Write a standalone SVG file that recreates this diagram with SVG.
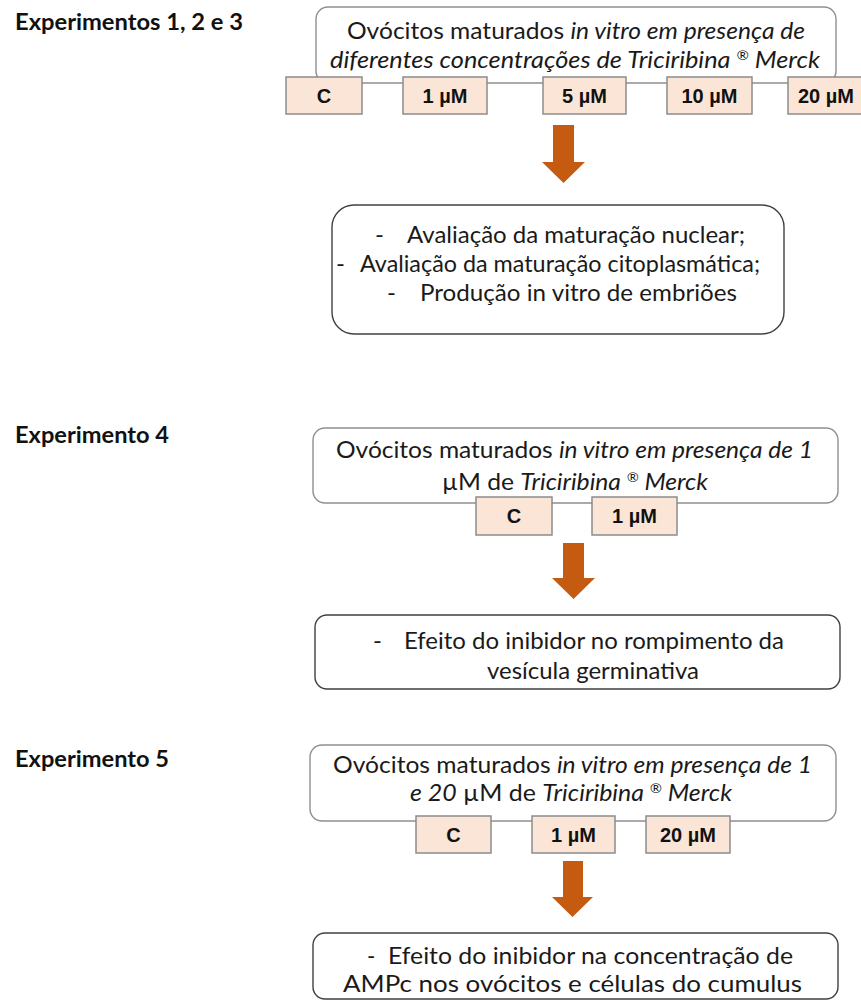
<svg xmlns="http://www.w3.org/2000/svg" width="861" height="1006" viewBox="0 0 861 1006">
<style>
.bg{fill:#ffffff}
.head{font-family:"Lato","Open Sans","Liberation Sans",sans-serif;font-weight:bold;font-size:22px;fill:#111}
.txt{font-family:"Lato","Open Sans","Liberation Sans",sans-serif;font-size:24px;fill:#1a1a1a}
.sm{font-size:22.5px}
.it{font-style:italic}
.sup{font-size:14px}
.topbox{fill:#ffffff;stroke:#8f8f8f;stroke-width:1.4}
.resbox{fill:#ffffff;stroke:#404040;stroke-width:1.4}
.conc{fill:#fbe5d6;stroke:#8c8c8c;stroke-width:1.5}
.lbl{font-family:"Liberation Sans",Arial,sans-serif;font-weight:bold;font-size:20px;fill:#111;text-anchor:middle}
.arrow{fill:#c55a11}
</style>
<rect class="bg" x="0" y="0" width="861" height="1006"/>

<g id="heading-exp123"><text class="head" x="15" y="30" textLength="228" lengthAdjust="spacingAndGlyphs">Experimentos 1, 2 e 3</text></g>
<g id="heading-exp4"><text class="head" x="15" y="443" textLength="154" lengthAdjust="spacingAndGlyphs">Experimento 4</text></g>
<g id="heading-exp5"><text class="head" x="15" y="767" textLength="154" lengthAdjust="spacingAndGlyphs">Experimento 5</text></g>

<g id="box-exp123">
<rect class="topbox" x="316" y="7" width="520" height="76" rx="12"/>
<text class="txt" x="347" y="39" textLength="458" lengthAdjust="spacingAndGlyphs">Ovócitos maturados <tspan class="it">in vitro em presença de</tspan></text>
<text class="txt it" x="330" y="68" textLength="490" lengthAdjust="spacingAndGlyphs">diferentes concentrações de Triciribina <tspan class="sup" dy="-8">®</tspan><tspan dy="8"> Merck</tspan></text>
</g>
<g id="c-exp123"><rect class="conc" x="286" y="77" width="76" height="37"/><text class="lbl" x="324" y="103">C</text></g>
<g id="1uM-exp123"><rect class="conc" x="403" y="77" width="84" height="37"/><text class="lbl" x="445" y="103">1 µM</text></g>
<g id="5uM-exp123"><rect class="conc" x="543" y="77" width="83" height="37"/><text class="lbl" x="584.5" y="103">5 µM</text></g>
<g id="10uM-exp123"><rect class="conc" x="667" y="77" width="85" height="37"/><text class="lbl" x="709.5" y="103">10 µM</text></g>
<g id="20uM-exp123"><rect class="conc" x="788" y="77" width="82" height="37"/><text class="lbl" x="826" y="103">20 µM</text></g>

<g id="result-exp123">
<rect class="resbox" x="332" y="205" width="452" height="129" rx="22"/>
<text class="txt" x="375" y="243">-</text>
<text class="txt" x="407" y="243" textLength="338" lengthAdjust="spacingAndGlyphs">Avaliação da maturação nuclear;</text>
<text class="txt" x="336" y="272">-</text>
<text class="txt" x="360" y="272" textLength="400" lengthAdjust="spacingAndGlyphs">Avaliação da maturação citoplasmática;</text>
<text class="txt" x="387" y="301">-</text>
<text class="txt" x="420" y="301" textLength="317" lengthAdjust="spacingAndGlyphs">Produção in vitro de embriões</text>
</g>

<g id="box-exp4">
<rect class="topbox" x="313" y="428" width="525" height="75" rx="12"/>
<text class="txt" x="336" y="458" textLength="477" lengthAdjust="spacingAndGlyphs">Ovócitos maturados <tspan class="it">in vitro em presença de 1</tspan></text>
<text class="txt" x="442" y="490" textLength="266" lengthAdjust="spacingAndGlyphs">µM de <tspan class="it">Triciribina </tspan><tspan class="it sup" dy="-8">®</tspan><tspan class="it" dy="8"> Merck</tspan></text>
</g>
<g id="c-exp4"><rect class="conc" x="476" y="497" width="76" height="38"/><text class="lbl" x="514" y="523">C</text></g>
<g id="1uM-exp4"><rect class="conc" x="592" y="497" width="85" height="38"/><text class="lbl" x="634.5" y="523">1 µM</text></g>

<g id="result-exp4">
<rect class="resbox" x="315" y="615" width="525" height="74" rx="12"/>
<text class="txt" x="373" y="649">-</text>
<text class="txt" x="404" y="649" textLength="380" lengthAdjust="spacingAndGlyphs">Efeito do inibidor no rompimento da</text>
<text class="txt" x="487" y="679" textLength="212" lengthAdjust="spacingAndGlyphs">vesícula germinativa</text>
</g>

<g id="box-exp5">
<rect class="topbox" x="310" y="745" width="526" height="76" rx="12"/>
<text class="txt" x="333" y="773" textLength="479" lengthAdjust="spacingAndGlyphs">Ovócitos maturados <tspan class="it">in vitro em presença de 1</tspan></text>
<text class="txt" x="410" y="801" textLength="322" lengthAdjust="spacingAndGlyphs"><tspan class="it">e 20</tspan> µM de <tspan class="it">Triciribina </tspan><tspan class="it sup" dy="-8">®</tspan><tspan class="it" dy="8"> Merck</tspan></text>
</g>
<g id="c-exp5"><rect class="conc" x="416" y="816" width="75" height="37"/><text class="lbl" x="453.5" y="842">C</text></g>
<g id="1uM-exp5"><rect class="conc" x="532" y="816" width="83" height="37"/><text class="lbl" x="573.5" y="842">1 µM</text></g>
<g id="20uM-exp5"><rect class="conc" x="646" y="816" width="84" height="37"/><text class="lbl" x="688" y="842">20 µM</text></g>

<g id="result-exp5">
<rect class="resbox" x="313" y="933" width="525" height="66" rx="12"/>
<text class="txt sm" x="367" y="964">-</text>
<text class="txt sm" x="388" y="964" textLength="405" lengthAdjust="spacingAndGlyphs">Efeito do inibidor na concentração de</text>
<text class="txt sm" x="343" y="992" textLength="459" lengthAdjust="spacingAndGlyphs">AMPc nos ovócitos e células do cumulus</text>
</g>

<g id="connectors">
<path class="arrow" d="M553,125 H574 V162 H585 L563.5,183 L542,162 H553 Z"/>
<path class="arrow" d="M563,543 H584 V578 H595 L573.5,599 L552,578 H563 Z"/>
<path class="arrow" d="M563,861 H583 V897 H593 L572.5,917 L552,897 H563 Z"/>
</g>
</svg>
